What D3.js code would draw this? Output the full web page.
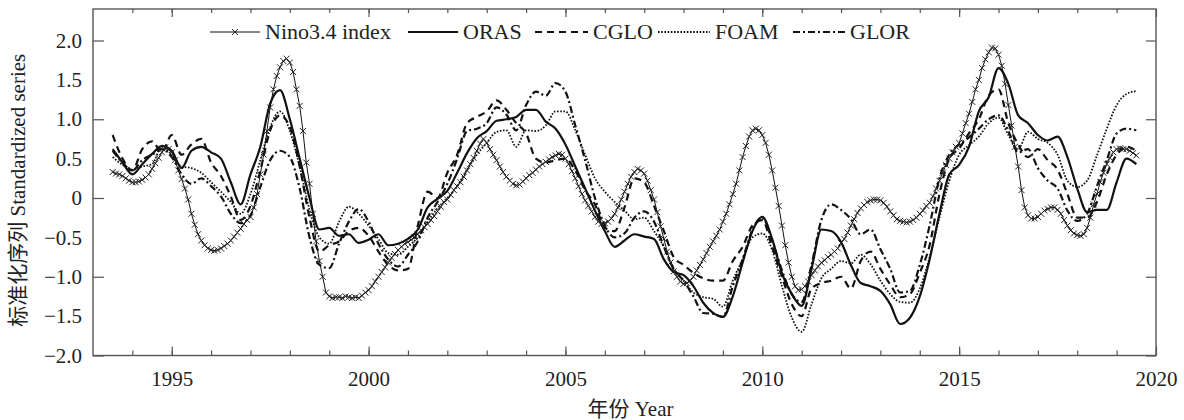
<!DOCTYPE html>
<html>
<head>
<meta charset="utf-8">
<script src="https://cdn.jsdelivr.net/npm/d3@7"></script>
<style>
  body { margin: 0; background: #fff; }
</style>
</head>
<body>
<svg id="chart" width="1184" height="420"></svg>
<script>

// DATA

// first point of every series is July 1993
const startYear = 1993.5;

// Nino3.4 index, monthly
const ninoValues = [
    0.33, 0.31, 0.30, 0.28, 0.25, 0.22,
    0.20, 0.20, 0.21, 0.23, 0.26, 0.30, 0.37, 0.44, 0.51, 0.58, 0.64, 0.62,
    0.58, 0.48, 0.35, 0.24, 0.12, -0.02, -0.20, -0.34, -0.46, -0.54, -0.60, -0.64,
    -0.66, -0.67, -0.66, -0.64, -0.61, -0.58, -0.54, -0.49, -0.44, -0.39, -0.33, -0.28,
    -0.24, -0.12, 0.05, 0.30, 0.55, 0.85, 1.15, 1.38, 1.55, 1.66, 1.74, 1.77,
    1.72, 1.60, 1.38, 1.17, 0.85, 0.45, 0.18, -0.20, -0.55, -0.80, -1.00, -1.20,
    -1.25, -1.27, -1.26, -1.26, -1.27, -1.25, -1.26, -1.27, -1.26, -1.27, -1.24, -1.20,
    -1.17, -1.12, -1.06, -1.00, -0.94, -0.88, -0.82, -0.76, -0.71, -0.66, -0.62, -0.58,
    -0.56, -0.53, -0.50, -0.46, -0.41, -0.37, -0.33, -0.28, -0.23, -0.17, -0.11, -0.05,
    -0.02, 0.04, 0.10, 0.15, 0.20, 0.27, 0.35, 0.43, 0.51, 0.60, 0.69, 0.75,
    0.70, 0.62, 0.55, 0.48, 0.40, 0.33, 0.27, 0.22, 0.18, 0.16, 0.17, 0.21,
    0.25, 0.29, 0.32, 0.36, 0.40, 0.43, 0.46, 0.49, 0.52, 0.54, 0.56, 0.55,
    0.50, 0.43, 0.34, 0.25, 0.15, 0.05, -0.03, -0.10, -0.17, -0.24, -0.30, -0.33,
    -0.32, -0.30, -0.26, -0.20, -0.12, -0.02, 0.08, 0.18, 0.27, 0.33, 0.37, 0.35,
    0.31, 0.22, 0.10, -0.02, -0.18, -0.36, -0.52, -0.68, -0.82, -0.93, -1.00, -1.06,
    -1.09, -1.08, -1.05, -1.00, -0.92, -0.85, -0.78, -0.70, -0.62, -0.55, -0.48, -0.40,
    -0.30, -0.20, -0.08, 0.05, 0.18, 0.35, 0.52, 0.66, 0.78, 0.86, 0.88, 0.86,
    0.80, 0.70, 0.55, 0.35, 0.13, -0.10, -0.35, -0.60, -0.82, -1.00, -1.12, -1.17,
    -1.16, -1.12, -1.06, -0.98, -0.92, -0.87, -0.82, -0.79, -0.75, -0.72, -0.68, -0.64,
    -0.57, -0.52, -0.44, -0.35, -0.27, -0.19, -0.13, -0.09, -0.05, -0.03, -0.02, -0.02,
    -0.03, -0.06, -0.11, -0.17, -0.22, -0.27, -0.29, -0.30, -0.31, -0.30, -0.28, -0.25,
    -0.20, -0.16, -0.10, -0.06, 0.02, 0.12, 0.22, 0.32, 0.42, 0.50, 0.58, 0.65,
    0.70, 0.82, 0.95, 1.07, 1.22, 1.38, 1.50, 1.65, 1.76, 1.85, 1.91, 1.90,
    1.82, 1.68, 1.45, 1.18, 0.92, 0.65, 0.40, 0.10, -0.12, -0.22, -0.26, -0.26,
    -0.24, -0.20, -0.16, -0.14, -0.12, -0.12, -0.15, -0.20, -0.28, -0.35, -0.41, -0.45,
    -0.47, -0.48, -0.46, -0.38, -0.25, -0.08, 0.05, 0.20, 0.32, 0.43, 0.51, 0.58,
    0.62, 0.63, 0.62, 0.62, 0.60, 0.57, 0.54
];

// reanalyses, quarterly
const orasValues = [
    0.62, 0.45,
    0.30, 0.43, 0.56, 0.66,
    0.60, 0.38, 0.60, 0.65,
    0.58, 0.50, 0.20, -0.08,
    0.30, 0.65, 1.20, 1.37,
    1.00, 0.50, 0.00, -0.40,
    -0.38, -0.48, -0.46, -0.57,
    -0.53, -0.46, -0.60, -0.58,
    -0.52, -0.40, -0.12, -0.01,
    0.09, 0.32, 0.57, 0.76,
    0.85, 0.98, 1.00, 1.03,
    1.12, 1.12, 0.97, 0.88,
    0.68, 0.40, 0.12, -0.16,
    -0.42, -0.62, -0.54, -0.46,
    -0.49, -0.52, -0.78, -0.94,
    -0.98, -1.12, -1.33, -1.46,
    -1.51, -1.25, -0.82, -0.42,
    -0.24, -0.52, -0.96, -1.22,
    -1.37, -0.90, -0.40, -0.42,
    -0.56, -0.85, -1.08, -1.12,
    -1.18, -1.35, -1.60, -1.52,
    -1.25, -0.78, -0.20, 0.30,
    0.42, 0.65, 1.10, 1.28,
    1.65, 1.45, 1.05, 0.95,
    0.80, 0.73, 0.78, 0.52,
    0.12, -0.18, -0.15, -0.15,
    0.20, 0.50, 0.43
];

const cgloValues = [
    0.80, 0.50,
    0.35, 0.62, 0.72, 0.58,
    0.80, 0.55, 0.68, 0.75,
    0.45, 0.28, 0.02, -0.28,
    -0.10, 0.35, 0.86, 1.05,
    0.90, 0.40, -0.25, -0.68,
    -0.60, -0.55, -0.42, -0.38,
    -0.48, -0.68, -0.85, -0.92,
    -0.90, -0.35, 0.08, 0.00,
    0.32, 0.55, 0.95, 1.03,
    1.10, 1.24, 1.12, 0.95,
    0.82, 0.50, 0.45, 0.48,
    0.50, 0.35, 0.10, -0.08,
    -0.38, -0.42, -0.12, 0.25,
    0.20, -0.10, -0.42, -0.75,
    -0.85, -0.95, -1.02, -1.05,
    -1.05, -0.80, -0.62, -0.35,
    -0.28, -0.62, -1.00, -1.35,
    -1.50, -1.15, -1.08, -1.05,
    -1.00, -1.15, -0.80, -0.68,
    -0.90, -1.10, -1.26, -1.22,
    -0.95, -0.60, 0.05, 0.50,
    0.63, 0.82, 1.00, 1.30,
    1.38, 0.95, 0.68, 0.52,
    0.62, 0.48, 0.36, 0.05,
    -0.25, -0.25, -0.05, 0.30,
    0.55, 0.65, 0.60
];

const foamValues = [
    0.52, 0.42,
    0.36, 0.40, 0.43, 0.65,
    0.55, 0.40, 0.38, 0.32,
    0.20, 0.08, -0.05, -0.20,
    0.05, 0.48, 0.90, 1.10,
    0.85, 0.40, -0.15, -0.50,
    -0.58, -0.30, -0.11, -0.20,
    -0.35, -0.52, -0.70, -0.72,
    -0.62, -0.50, -0.30, -0.13,
    0.00, 0.15, 0.36, 0.55,
    0.70, 0.84, 0.86, 0.65,
    0.86, 0.85, 0.92, 1.10,
    1.10, 0.86, 0.55, 0.25,
    0.08, -0.05, -0.16, -0.27,
    -0.25, -0.42, -0.62, -0.90,
    -1.05, -1.20, -1.26, -1.28,
    -1.38, -1.05, -0.78, -0.50,
    -0.45, -0.66, -1.12, -1.52,
    -1.70, -1.35, -1.02, -0.90,
    -0.80, -0.83, -0.72, -0.84,
    -1.05, -1.22, -1.32, -1.33,
    -1.15, -0.75, -0.25, 0.22,
    0.55, 0.67, 0.78, 0.95,
    1.02, 0.80, 0.62, 0.84,
    0.75, 0.70, 0.55, 0.22,
    0.14, 0.22, 0.54, 0.88,
    1.18, 1.32, 1.36
];

const glorValues = [
    0.60, 0.45,
    0.35, 0.48, 0.55, 0.62,
    0.52, 0.30, 0.18, 0.25,
    0.15, 0.02, -0.20, -0.32,
    -0.22, 0.14, 0.48, 0.60,
    0.52, 0.12, -0.50, -0.85,
    -0.89, -0.58, -0.30, -0.14,
    -0.30, -0.58, -0.78, -0.87,
    -0.72, -0.55, -0.25, -0.05,
    0.18, 0.50, 0.85, 0.88,
    0.95, 1.15, 1.06, 0.86,
    1.18, 1.35, 1.30, 1.46,
    1.35, 0.92, 0.48, 0.00,
    -0.35, -0.50, -0.45, -0.25,
    -0.17, -0.30, -0.62, -0.90,
    -1.05, -1.25, -1.46, -1.47,
    -1.51, -1.12, -0.78, -0.40,
    -0.25, -0.54, -0.92, -1.22,
    -1.32, -0.85, -0.28, -0.08,
    -0.15, -0.27, -0.46, -0.40,
    -0.65, -0.90, -1.20, -1.18,
    -0.85, -0.35, 0.25, 0.55,
    0.68, 0.77, 0.88, 1.00,
    1.05, 0.85, 0.58, 0.62,
    0.38, 0.22, 0.12, -0.16,
    -0.29, -0.20, 0.15, 0.48,
    0.82, 0.88, 0.86
];

const seriesNames = ["Nino3.4 index", "ORAS", "CGLO", "FOAM", "GLOR"];

const yearLabels = [1995, 2000, 2005, 2010, 2015, 2020];
const yLabels = [-2, -1.5, -1, -0.5, 0, 0.5, 1, 1.5, 2];
const yMajorTicks = [-2, -1, 0, 1, 2];


// SETUP

const svg = d3.select("#chart");

const plotLeft = 93, plotRight = 1156, plotTop = 9, plotBottom = 355.5;

const x = d3.scaleLinear().domain([1993, 2020]).range([plotLeft, plotRight]);
const y = d3.scaleLinear().domain([-2, 2.4]).range([plotBottom, plotTop]);

const axisColor = "#555";
const textColor = "#222";
const serifFont = "'Liberation Serif', 'Times New Roman', 'Noto Sans CJK SC', serif";

function formatValue(d) {
    if (d === 0) {
        return "0";
    }
    return (d < 0 ? "\u2212" : "") + Math.abs(d).toFixed(1);
}


// AXES (ticks point inwards)

function styleAxis(g) {
    g.select(".domain").remove();
    g.attr("font-family", null);
    g.selectAll("line").attr("stroke", axisColor).attr("stroke-width", 1.2);
    g.selectAll("text")
        .style("font-family", serifFont)
        .style("font-size", "21px")
        .attr("fill", textColor);
}

const minorYears = d3.range(1994, 2020);

svg.append("g")
    .attr("transform", `translate(0,${plotBottom})`)
    .call(d3.axisBottom(x).tickValues(minorYears).tickSize(-5).tickFormat(""))
    .call(styleAxis);

svg.append("g")
    .attr("transform", `translate(0,${plotBottom})`)
    .call(d3.axisBottom(x).tickValues(yearLabels).tickSize(-9).tickPadding(16).tickFormat(d3.format("d")))
    .call(styleAxis);

svg.append("g")
    .attr("transform", `translate(0,${plotTop})`)
    .call(d3.axisTop(x).tickValues(minorYears).tickSize(-4).tickFormat(""))
    .call(styleAxis);

svg.append("g")
    .attr("transform", `translate(0,${plotTop})`)
    .call(d3.axisTop(x).tickValues(yearLabels).tickSize(-8).tickFormat(""))
    .call(styleAxis);

svg.append("g")
    .attr("transform", `translate(${plotLeft},0)`)
    .call(d3.axisLeft(y).tickValues(yLabels).tickSize(0).tickPadding(11).tickFormat(formatValue))
    .call(styleAxis);

svg.append("g")
    .attr("transform", `translate(${plotLeft},0)`)
    .call(d3.axisLeft(y).tickValues(yMajorTicks).tickSize(-11).tickFormat(""))
    .call(styleAxis);

svg.append("g")
    .attr("transform", `translate(${plotRight},0)`)
    .call(d3.axisRight(y).tickValues(yMajorTicks).tickSize(-10).tickFormat(""))
    .call(styleAxis);

svg.append("rect")
    .attr("x", plotLeft)
    .attr("y", plotTop)
    .attr("width", plotRight - plotLeft)
    .attr("height", plotBottom - plotTop)
    .attr("fill", "none")
    .attr("stroke", axisColor)
    .attr("stroke-width", 1.4);


// AXIS TITLES

svg.append("text")
    .attr("x", (plotLeft + plotRight) / 2 + 6)
    .attr("y", 416)
    .attr("text-anchor", "middle")
    .attr("fill", textColor)
    .style("font-family", serifFont)
    .style("font-size", "21px")
    .text("年份 Year");

svg.append("text")
    .attr("transform", `translate(25,${(plotTop + plotBottom) / 2 + 8}) rotate(-90)`)
    .attr("text-anchor", "middle")
    .attr("fill", textColor)
    .style("font-family", serifFont)
    .style("font-size", "21px")
    .text("标准化序列 Standardized series");


// SERIES

const series = [
    { name: seriesNames[1], values: orasValues, step: 0.25, width: 2.2, dash: null },
    { name: seriesNames[2], values: cgloValues, step: 0.25, width: 2.2, dash: "7,5" },
    { name: seriesNames[3], values: foamValues, step: 0.25, width: 1.8, dash: "1.6,1.6" },
    { name: seriesNames[4], values: glorValues, step: 0.25, width: 2.2, dash: "7,3,2,3" },
    { name: seriesNames[0], values: ninoValues, step: 1 / 12, width: 1, dash: null }
];

svg.append("clipPath")
    .attr("id", "plotClip")
    .append("rect")
    .attr("x", plotLeft)
    .attr("y", plotTop)
    .attr("width", plotRight - plotLeft)
    .attr("height", plotBottom - plotTop);

const plot = svg.append("g").attr("clip-path", "url(#plotClip)");

for (let s of series) {

    let points = s.values.map(function (v, i) {
        return { t: startYear + i * s.step, v: v };
    });

    let line = d3.line()
        .x(d => x(d.t))
        .y(d => y(d.v))
        .curve(s.step < 0.1 ? d3.curveLinear : d3.curveMonotoneX);

    plot.append("path")
        .datum(points)
        .attr("d", line)
        .attr("fill", "none")
        .attr("stroke", "#111")
        .attr("stroke-width", s.width)
        .attr("stroke-dasharray", s.dash)
        .attr("stroke-linejoin", "round");

    // Nino3.4 gets an x marker on every month
    if (s.name === seriesNames[0]) {
        plot.selectAll(".ninoMark")
            .data(points)
            .join("path")
            .attr("class", "ninoMark")
            .attr("transform", d => `translate(${x(d.t)},${y(d.v)})`)
            .attr("d", "M-3,-3L3,3M-3,3L3,-3")
            .attr("stroke", "#222")
            .attr("stroke-width", 1);
    }

}


// LEGEND

const legendY = 32;

const legendItems = [
    { name: seriesNames[0], x1: 210, x2: 260, width: 1, dash: null, marker: true },
    { name: seriesNames[1], x1: 408, x2: 458, width: 2.2, dash: null },
    { name: seriesNames[2], x1: 535, x2: 588, width: 2.2, dash: "7,5" },
    { name: seriesNames[3], x1: 658, x2: 710, width: 1.8, dash: "1.6,1.6" },
    { name: seriesNames[4], x1: 793, x2: 845, width: 2.2, dash: "7,3,2,3" }
];

for (let item of legendItems) {

    svg.append("line")
        .attr("x1", item.x1)
        .attr("x2", item.x2)
        .attr("y1", legendY)
        .attr("y2", legendY)
        .attr("stroke", "#111")
        .attr("stroke-width", item.width)
        .attr("stroke-dasharray", item.dash);

    if (item.marker) {
        svg.append("path")
            .attr("transform", `translate(${(item.x1 + item.x2) / 2},${legendY})`)
            .attr("d", "M-3,-3L3,3M-3,3L3,-3")
            .attr("stroke", "#222")
            .attr("stroke-width", 1);
    }

    svg.append("text")
        .attr("x", item.x2 + 5)
        .attr("y", legendY + 7)
        .attr("fill", textColor)
        .style("font-family", serifFont)
        .style("font-size", "22px")
        .text(item.name);

}

</script>
</body>
</html>
